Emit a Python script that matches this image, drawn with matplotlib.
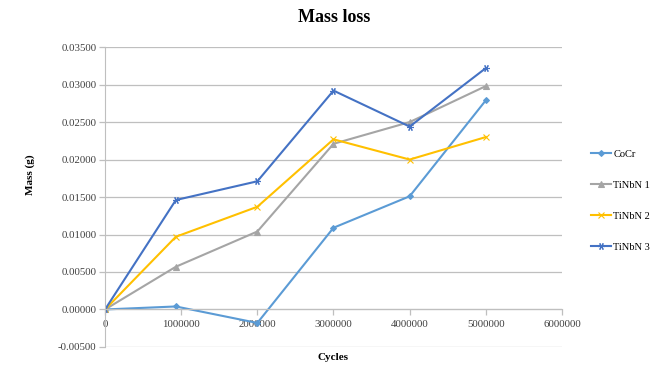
import matplotlib.pyplot as plt
from matplotlib.ticker import FuncFormatter, MultipleLocator

# data
cycles = [0, 930000, 2000000, 3000000, 4000000, 5000000]
cocr = [0.0, 0.0004, -0.0018, 0.0109, 0.0151, 0.0279]
tinbn1 = [0.0, 0.0057, 0.0104, 0.0221, 0.0250, 0.0298]
tinbn2 = [0.0, 0.0097, 0.0137, 0.0227, 0.0200, 0.0230]
tinbn3 = [0.0, 0.0146, 0.0171, 0.0292, 0.0244, 0.0322]

series = [
    ("CoCr", cocr, "#5B9BD5", "D", 3),
    ("TiNbN 1", tinbn1, "#A5A5A5", "^", 4),
    ("TiNbN 2", tinbn2, "#FFC000", "x", 4.5),
    ("TiNbN 3", tinbn3, "#4472C4", (6, 2, 90), 5),
]

plt.rcParams['font.family'] = ['Liberation Serif', 'DejaVu Serif']

fig = plt.figure(figsize=(6.69, 3.8), dpi=100)
ax = fig.add_axes([0.157, 0.087, 0.683, 0.789])

for name, vals, col, mk, ms in series:
    ax.plot(cycles, vals, color=col, lw=1.5, marker=mk, markersize=ms,
            markeredgewidth=0.8, label=name)

ax.set_xlim(0, 6000000)
ax.set_ylim(-0.005, 0.035)
ax.xaxis.set_major_locator(MultipleLocator(1000000))
ax.yaxis.set_major_locator(MultipleLocator(0.005))
ax.yaxis.set_major_formatter(FuncFormatter(lambda v, p: f"{v:.5f}"))
ax.xaxis.set_major_formatter(FuncFormatter(lambda v, p: f"{int(round(v))}"))

ax.grid(axis='y', color='#BFBFBF', lw=0.9)
ax.set_axisbelow(True)
for s in ['top', 'right']:
    ax.spines[s].set_visible(False)
ax.spines['bottom'].set_position(('data', 0))
ax.spines['bottom'].set_color('#BFBFBF')
ax.spines['left'].set_color('#BFBFBF')
ax.tick_params(axis='both', colors='#BFBFBF', labelcolor='#404040',
               labelsize=7.8, length=4, width=0.9)
ax.tick_params(axis='y', pad=2)

fig.text(0.5, 0.955, "Mass loss", ha='center', va='center',
         fontsize=13, fontweight='bold')
fig.text(0.045, 0.54, "Mass (g)", ha='center', va='center', rotation=90,
         fontsize=8, fontweight='bold')
fig.text(0.498, 0.058, "Cycles", ha='center', va='center',
         fontsize=8, fontweight='bold')

ax.legend(loc='upper left', bbox_to_anchor=(0.870, 0.632), frameon=False,
          fontsize=7.5, labelspacing=2.1, handlelength=1.9, handletextpad=0.2,
          bbox_transform=fig.transFigure)

fig.savefig("out.png", dpi=100)
